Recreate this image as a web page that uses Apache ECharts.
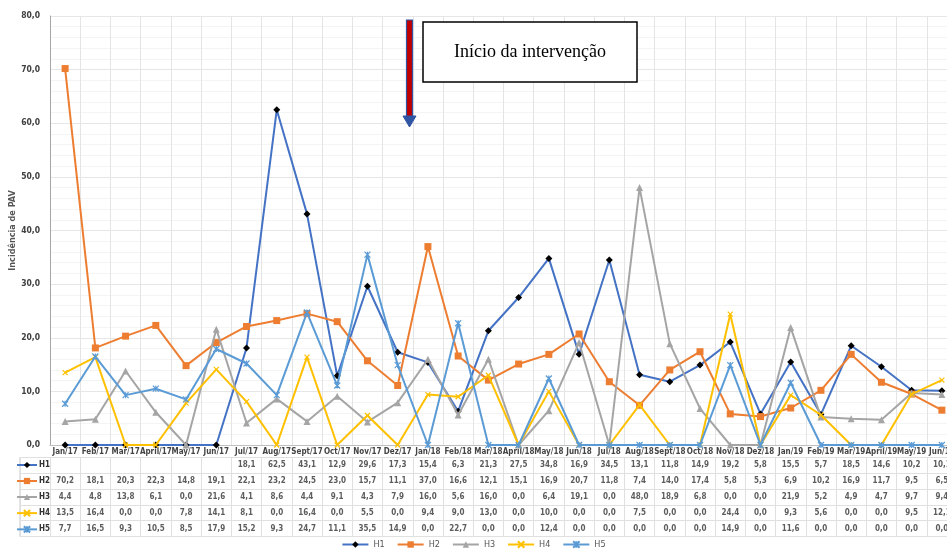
<!DOCTYPE html>
<html>
<head>
<meta charset="utf-8">
<script src="https://cdn.jsdelivr.net/npm/echarts@6/dist/echarts.min.js"></script>
<style>
html,body{margin:0;padding:0;background:#fff;}
#chart{width:947px;height:555px;}
</style>
</head>
<body>
<div id="chart"></div>
<script>
const categories = ['Jan/17','Feb/17','Mar/17','April/17','May/17','Jun/17','Jul/17','Aug/17','Sept/17','Oct/17','Nov/17','Dez/17',
  'Jan/18','Feb/18','Mar/18','April/18','May/18','Jun/18','Jul/18','Aug/18','Sept/18','Oct/18','Nov/18','Dez/18',
  'Jan/19','Feb/19','Mar/19','April/19','May/19','Jun/19'];
const H1 = [null,null,null,null,null,null,18.1,62.5,43.1,12.9,29.6,17.3,15.4,6.3,21.3,27.5,34.8,16.9,34.5,13.1,11.8,14.9,19.2,5.8,15.5,5.7,18.5,14.6,10.2,10.1];
const H2 = [70.2,18.1,20.3,22.3,14.8,19.1,22.1,23.2,24.5,23.0,15.7,11.1,37.0,16.6,12.1,15.1,16.9,20.7,11.8,7.4,14.0,17.4,5.8,5.3,6.9,10.2,16.9,11.7,9.5,6.5];
const H3 = [4.4,4.8,13.8,6.1,0.0,21.6,4.1,8.6,4.4,9.1,4.3,7.9,16.0,5.6,16.0,0.0,6.4,19.1,0.0,48.0,18.9,6.8,0.0,0.0,21.9,5.2,4.9,4.7,9.7,9.4];
const H4 = [13.5,16.4,0.0,0.0,7.8,14.1,8.1,0.0,16.4,0.0,5.5,0.0,9.4,9.0,13.0,0.0,10.0,0.0,0.0,7.5,0.0,0.0,24.4,0.0,9.3,5.6,0.0,0.0,9.5,12.1];
const H5 = [7.7,16.5,9.3,10.5,8.5,17.9,15.2,9.3,24.7,11.1,35.5,14.9,0.0,22.7,0.0,0.0,12.4,0.0,0.0,0.0,0.0,0.0,14.9,0.0,11.6,0.0,0.0,0.0,0.0,0.0];
const seriesNames = ['H1','H2','H3','H4','H5'];
const yTicks = {min: 0, max: 80, interval: 10};
const yAxisTitle = 'Incidência de PAV';
const annotationText = 'Início da intervenção';

const allData = [H1, H2, H3, H4, H5];
const fmt = v => v.toFixed(1).replace('.', ',');
const narrow = "'Liberation Sans Narrow','DejaVu Sans Condensed',sans-serif";

const styles = [
  {line:'#4472C4', item:{color:'#000', borderColor:'#000', borderWidth:0}, symbol:'diamond', size:7},
  {line:'#ED7D31', item:{color:'#ED7D31', borderColor:'#ED7D31', borderWidth:0}, symbol:'rect', size:7},
  {line:'#A5A5A5', item:{color:'#A5A5A5', borderColor:'#A5A5A5', borderWidth:0}, symbol:'triangle', size:7},
  {line:'#FFC000', item:{color:'#FFC000', borderColor:'#FFC000', borderWidth:1.2}, symbol:'path://M0,0L10,10M0,10L10,0', size:5},
  {line:'#5B9BD5', item:{color:'#5B9BD5', borderColor:'#5B9BD5', borderWidth:1.2}, symbol:'path://M5,0L5,10M0,0L10,10M0,10L10,0', size:6}
];

const lineSeries = allData.map((d, k) => ({
  name: seriesNames[k],
  type: 'line',
  xAxisIndex: 0, yAxisIndex: 0,
  data: d.map(v => v == null ? 0 : v),
  symbol: styles[k].symbol,
  symbolSize: styles[k].size,
  showAllSymbol: true,
  lineStyle: {color: styles[k].line, width: 2},
  itemStyle: styles[k].item,
  z: 2 + k
}));

const tableData = [];
allData.forEach((d, r) => d.forEach((v, i) => { if (v != null) tableData.push([i + 1, r, v]); }));

const tableSeries = {
  type: 'scatter',
  xAxisIndex: 1, yAxisIndex: 1,
  symbolSize: 0,
  data: tableData,
  silent: true,
  label: {
    show: true, position: 'inside',
    formatter: p => fmt(p.value[2]),
    fontSize: 8, fontWeight: 'bold', color: '#333', fontFamily: narrow
  }
};

const chart = echarts.init(document.getElementById('chart'), null, {renderer: 'canvas'});
chart.setOption({
  animation: false,
  backgroundColor: '#fff',
  grid: [
    {left: 50, right: -10, top: 16, bottom: 110, containLabel: false, outerBoundsMode: 'none'},
    {left: 19.8, right: -10, top: 457.5, height: 79, show: true, borderColor: '#d9d9d9', borderWidth: 1, containLabel: false, outerBoundsMode: 'none'}
  ],
  legend: [
    {
      data: seriesNames, bottom: 1, left: 'center', selectedMode: false,
      itemWidth: 26, itemHeight: 8, itemGap: 12,
      textStyle: {fontSize: 9, color: '#555', fontFamily: narrow}
    },
    {
      data: seriesNames, left: 16, top: 461, orient: 'vertical', selectedMode: false,
      itemWidth: 20, itemHeight: 7.8, itemGap: 8, padding: 0,
      textStyle: {fontSize: 8, color: '#333', fontWeight: 'bold', fontFamily: narrow, lineHeight: 8, padding: [0,0,0,-3]}
    }
  ],
  xAxis: [
    {
      type: 'category', gridIndex: 0, data: categories, boundaryGap: true,
      axisLine: {show: true, lineStyle: {color: '#bfbfbf'}},
      axisTick: {show: false},
      axisLabel: {interval: 0, fontSize: 8, color: '#444', margin: 3, fontFamily: narrow, fontWeight: 'bold'},
      splitLine: {show: true, interval: 0, lineStyle: {color: '#e4e4e4', width: 1}}
    },
    {
      type: 'category', gridIndex: 1, data: [''].concat(categories), boundaryGap: true,
      axisLine: {show: false}, axisTick: {show: false}, axisLabel: {show: false},
      splitLine: {show: true, interval: 0, lineStyle: {color: '#e0e0e0', width: 1}}
    }
  ],
  yAxis: [
    {
      type: 'value', gridIndex: 0, min: yTicks.min, max: yTicks.max, interval: yTicks.interval,
      name: yAxisTitle, nameLocation: 'middle', nameGap: 33, nameRotate: 90, nameMoveOverlap: false,
      nameTextStyle: {fontSize: 9, fontWeight: 'bold', color: '#555', fontFamily: narrow},
      axisLine: {show: true, lineStyle: {color: '#a6a6a6'}},
      axisTick: {show: false},
      axisLabel: {formatter: v => fmt(v), fontSize: 8.5, fontWeight: 'bold', color: '#404040', margin: 10, fontFamily: narrow},
      splitLine: {show: true, lineStyle: {color: '#e6e6e6'}},
      minorTick: {show: false, splitNumber: 5},
      minorSplitLine: {show: true, lineStyle: {color: '#f4f4f4'}}
    },
    {
      type: 'category', gridIndex: 1, data: seriesNames, inverse: true, boundaryGap: true,
      axisLine: {show: false}, axisTick: {show: false}, axisLabel: {show: false},
      splitLine: {show: true, interval: 0, lineStyle: {color: '#e0e0e0', width: 1}}
    }
  ],
  series: lineSeries.concat([tableSeries]),
  graphic: [
    {type: 'rect', shape: {x: 406.5, y: 20, width: 6, height: 98}, style: {fill: '#c00000', stroke: '#2f55a4', lineWidth: 1.2}, z: 100},
    {type: 'polygon', shape: {points: [[403, 116], [416, 116], [409.5, 127]]}, style: {fill: '#2f55a4', stroke: '#2f55a4', lineWidth: 1}, z: 100},
    {type: 'rect', shape: {x: 423, y: 22, width: 214, height: 60}, style: {fill: '#fff', stroke: '#000', lineWidth: 1.5}, z: 100},
    {type: 'text', x: 530, y: 52, style: {text: annotationText, fontSize: 18, fontFamily: "'Liberation Serif','Times New Roman',serif", fill: '#000', align: 'center', verticalAlign: 'middle'}, z: 101}
  ]
});
</script>
</body>
</html>
